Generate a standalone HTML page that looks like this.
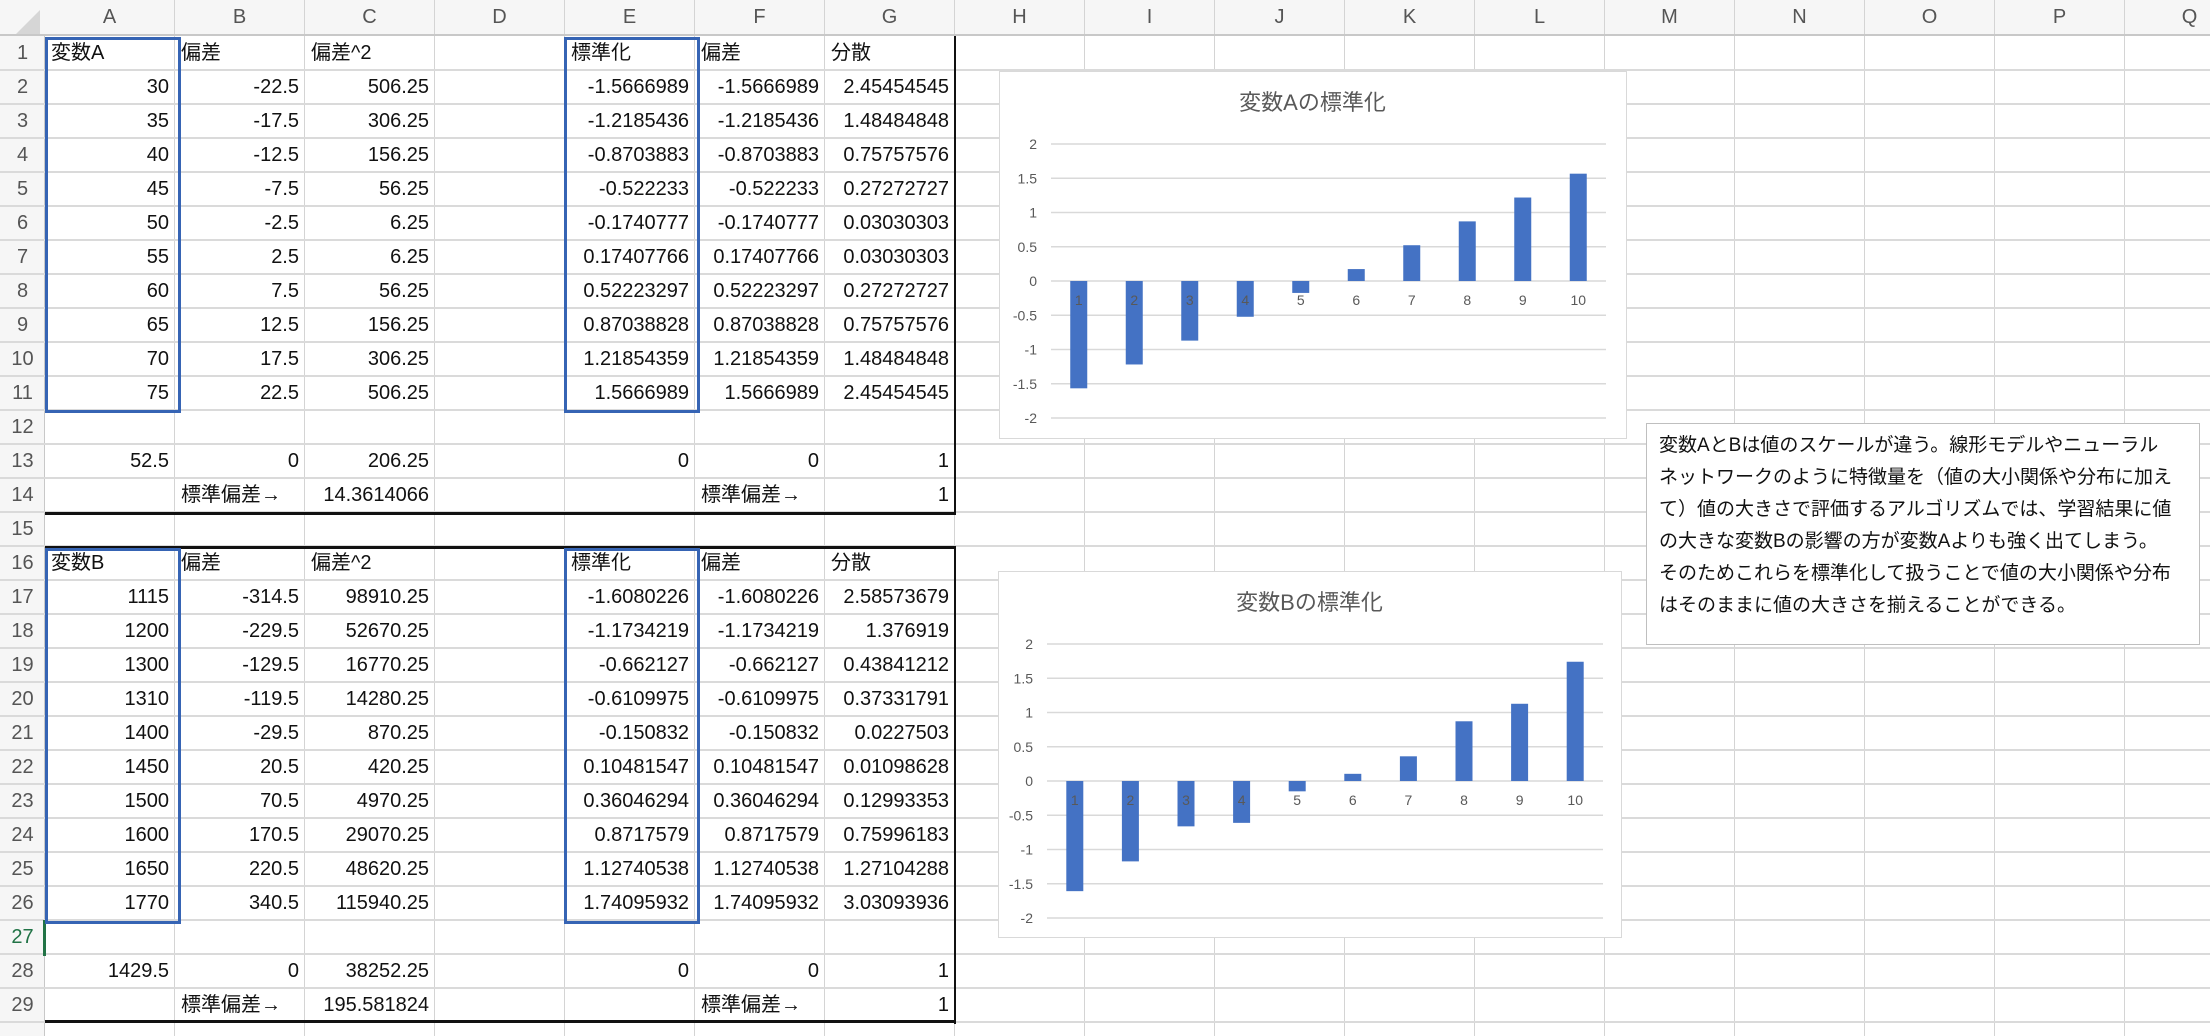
<!DOCTYPE html>
<html><head><meta charset="utf-8">
<style>
html,body{margin:0;padding:0;background:#fff;}
body{width:2210px;height:1032px;position:relative;overflow:hidden;font-family:"Liberation Sans","Noto Sans CJK JP",sans-serif;}
.abs{position:absolute;box-sizing:border-box;}
.cell{position:absolute;height:34px;line-height:34px;font-size:20px;color:#111;white-space:nowrap;padding:0 6px;box-sizing:border-box;}
.hdr{position:absolute;text-align:center;color:#555;font-size:20px;}
</style></head>
<body>
<div id="sheet" class="abs" style="left:0;top:0;width:2210px;height:1032px"></div>
<svg id="charts" class="abs" style="left:0;top:0" width="2210" height="1032"></svg>
<div class="abs" style="left:1646px;top:423px;width:554px;height:222px;background:#fff;border:1px solid #bfbfbf;padding:6px 0 0 12px;font-size:19px;line-height:32px;color:#111;white-space:nowrap;font-family:'Liberation Sans','Noto Sans CJK JP',sans-serif;">変数AとBは値のスケールが違う。線形モデルやニューラル<br>ネットワークのように特徴量を（値の大小関係や分布に加え<br>て）値の大きさで評価するアルゴリズムでは、学習結果に値<br>の大きな変数Bの影響の方が変数Aよりも強く出てしまう。<br>そのためこれらを標準化して扱うことで値の大小関係や分布<br>はそのままに値の大きさを揃えることができる。</div>
<script>
const colLetters = ["A","B","C","D","E","F","G","H","I","J","K","L","M","N","O","P","Q"];
const rowCount = 29;
const tableRows = {
1:["変数A","偏差","偏差^2","","標準化","偏差","分散"],
2:["30","-22.5","506.25","","-1.5666989","-1.5666989","2.45454545"],
3:["35","-17.5","306.25","","-1.2185436","-1.2185436","1.48484848"],
4:["40","-12.5","156.25","","-0.8703883","-0.8703883","0.75757576"],
5:["45","-7.5","56.25","","-0.522233","-0.522233","0.27272727"],
6:["50","-2.5","6.25","","-0.1740777","-0.1740777","0.03030303"],
7:["55","2.5","6.25","","0.17407766","0.17407766","0.03030303"],
8:["60","7.5","56.25","","0.52223297","0.52223297","0.27272727"],
9:["65","12.5","156.25","","0.87038828","0.87038828","0.75757576"],
10:["70","17.5","306.25","","1.21854359","1.21854359","1.48484848"],
11:["75","22.5","506.25","","1.5666989","1.5666989","2.45454545"],
13:["52.5","0","206.25","","0","0","1"],
14:["","標準偏差→","14.3614066","","","標準偏差→","1"],
16:["変数B","偏差","偏差^2","","標準化","偏差","分散"],
17:["1115","-314.5","98910.25","","-1.6080226","-1.6080226","2.58573679"],
18:["1200","-229.5","52670.25","","-1.1734219","-1.1734219","1.376919"],
19:["1300","-129.5","16770.25","","-0.662127","-0.662127","0.43841212"],
20:["1310","-119.5","14280.25","","-0.6109975","-0.6109975","0.37331791"],
21:["1400","-29.5","870.25","","-0.150832","-0.150832","0.0227503"],
22:["1450","20.5","420.25","","0.10481547","0.10481547","0.01098628"],
23:["1500","70.5","4970.25","","0.36046294","0.36046294","0.12993353"],
24:["1600","170.5","29070.25","","0.8717579","0.8717579","0.75996183"],
25:["1650","220.5","48620.25","","1.12740538","1.12740538","1.27104288"],
26:["1770","340.5","115940.25","","1.74095932","1.74095932","3.03093936"],
28:["1429.5","0","38252.25","","0","0","1"],
29:["","標準偏差→","195.581824","","","標準偏差→","1"]
};
const chartACategories = ["1","2","3","4","5","6","7","8","9","10"];
const chartAValues = [-1.5666989,-1.2185436,-0.8703883,-0.522233,-0.1740777,0.17407766,0.52223297,0.87038828,1.21854359,1.5666989];
const chartBCategories = ["1","2","3","4","5","6","7","8","9","10"];
const chartBValues = [-1.6080226,-1.1734219,-0.662127,-0.6109975,-0.150832,0.10481547,0.36046294,0.8717579,1.12740538,1.74095932];
const yTickValues = [2,1.5,1,0.5,0,-0.5,-1,-1.5,-2];
const yTickLabels = ["2","1.5","1","0.5","0","-0.5","-1","-1.5","-2"];

const sheet = document.getElementById('sheet');
const X0 = 45, CW = 130, Y0 = 36, RH = 34;
function div(style){const d=document.createElement('div');d.style.cssText=style;sheet.appendChild(d);return d;}
// header bar
let hb = div('position:absolute;left:0;top:0;width:2210px;height:36px;background:#f6f6f6;border-bottom:2px solid #c8c8c8;box-sizing:border-box;');


let rb = div('position:absolute;left:0;top:36px;width:45px;height:1000px;background:#f6f6f6;border-right:1px solid #c8c8c8;box-sizing:border-box;');


let corner = div('position:absolute;left:16px;top:10px;width:0;height:0;border-left:24px solid transparent;border-bottom:24px solid #d6d6d6;');


for(let i=0;i<colLetters.length;i++){
  const x = X0+i*CW;
  const h = div('position:absolute;left:'+x+'px;top:0;width:'+CW+'px;height:34px;line-height:34px;text-align:center;color:#555;font-size:20px;border-right:1px solid #d4d4d4;box-sizing:border-box;');
  h.textContent = colLetters[i];
  
  
  const v = div('position:absolute;left:'+(x+CW-1)+'px;top:36px;width:1px;height:1000px;background:#d4d4d4;');
  
  
}
for(let r=1;r<=rowCount;r++){
  const y = Y0+(r-1)*RH;
  const h = div('position:absolute;left:0;top:'+y+'px;width:45px;height:'+RH+'px;line-height:'+RH+'px;text-align:center;color:'+(r==27?'#217346':'#555')+';font-size:20px;');
  h.textContent = r;
  
  
  const g = div('position:absolute;left:0;top:'+(y+RH-1)+'px;width:2210px;height:2px;background:#dadada;');
  
  
  const row = tableRows[r];
  if(row){
    for(let c=0;c<row.length;c++){
      if(!row[c]) continue;
      const isNum = !isNaN(parseFloat(row[c])) && isFinite(row[c]);
      const cell = div('position:absolute;left:'+(X0+c*CW)+'px;top:'+y+'px;width:'+CW+'px;height:'+RH+'px;line-height:'+RH+'px;font-size:20px;color:#111;white-space:nowrap;padding:0 6px;box-sizing:border-box;text-align:'+(isNum?'right':'left')+';');
      cell.textContent = row[c];
      
      
    }
  }
}
let g27 = div('position:absolute;left:43px;top:920px;width:3px;height:36px;background:#217346;');


// black frames
function line(l,t,w,h,name){const d=div('position:absolute;left:'+l+'px;top:'+t+'px;width:'+w+'px;height:'+h+'px;background:#111;');}
line(954,36,2,478,'table-a-right-border');
line(45,512,911,3,'table-a-bottom-border');
line(45,546,911,3,'table-b-top-border');
line(954,546,2,478,'table-b-right-border');
line(45,1020,911,3,'table-b-bottom-border');
// blue selection boxes
function box(l,t,w,h,name){const d=div('position:absolute;left:'+l+'px;top:'+t+'px;width:'+w+'px;height:'+h+'px;border:3px solid #3664b4;box-sizing:border-box;');}
box(45,37,136,376,'selection-variable-a');
box(564,37,136,376,'selection-standardized-a');
box(45,548,136,376,'selection-variable-b');
box(564,548,136,376,'selection-standardized-b');

// charts
const svg = document.getElementById('charts');
const NS='http://www.w3.org/2000/svg';
function el(tag,attrs,parent){const e=document.createElementNS(NS,tag);for(const k in attrs)e.setAttribute(k,attrs[k]);(parent||svg).appendChild(e);return e;}
function drawChart(geo,cats,vals,title,key){
  const grp = el('g',{});
  
  
  const bg = el('rect',{x:geo.l+0.5,y:geo.t+0.5,width:geo.r-geo.l,height:geo.b-geo.t,fill:'#fff',stroke:'#d9d9d9'},grp);
  
  
  const t = el('text',{x:(geo.l+geo.r)/2,y:geo.titleY,'text-anchor':'middle','font-size':'22','fill':'#595959','font-family':'Liberation Sans, Noto Sans CJK JP, sans-serif'},grp);
  t.textContent = title;
  
  
  const ys = v => geo.y0 + (geo.yMax - v)/(geo.yMax-geo.yMin)*(geo.y1-geo.y0);
  const bw = (geo.pr-geo.pl)/cats.length;
  const xs = i => geo.pl + bw*(i+0.5);
  for(let i=0;i<yTickValues.length;i++){
    const y = ys(yTickValues[i]);
    const gl = el('line',{x1:geo.pl,x2:geo.pr,y1:y,y2:y,stroke:'#d9d9d9','stroke-width':1.5},grp);
    
    
    const tl = el('text',{x:geo.pl-14,y:y+5,'text-anchor':'end','font-size':'14','fill':'#595959','font-family':'Liberation Sans, sans-serif'},grp);
    tl.textContent = yTickLabels[i];
    
    
  }
  for(let i=0;i<vals.length;i++){
    const y0 = ys(0), y = ys(vals[i]);
    const b = el('rect',{x:xs(i)-8.5,y:Math.min(y0,y),width:17,height:Math.abs(y-y0),fill:'#4472c4'},grp);
    
    
  }
  for(let i=0;i<cats.length;i++){
    const c = el('text',{x:xs(i),y:ys(0)+24,'text-anchor':'middle','font-size':'14','fill':'#595959','font-family':'Liberation Sans, sans-serif'},grp);
    c.textContent = cats[i];
    
    
  }
}
drawChart({l:999,r:1626,t:71,b:438,titleY:110,pl:1051,pr:1606,y0:144,y1:418,yMax:2,yMin:-2},chartACategories,chartAValues,'変数Aの標準化','a');
drawChart({l:998,r:1621,t:571,b:937,titleY:610,pl:1047,pr:1603,y0:644,y1:918,yMax:2,yMin:-2},chartBCategories,chartBValues,'変数Bの標準化','b');
</script>
</body></html>
